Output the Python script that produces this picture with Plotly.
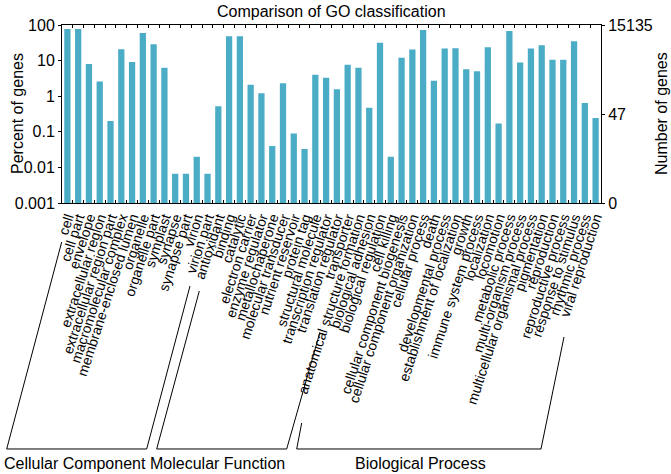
import plotly.graph_objects as go

# ---------------- data ----------------
cc_terms = ["cell", "cell part", "envelope", "extracellular region", "extracellular region part",
            "macromolecular complex", "membrane-enclosed lumen", "organelle", "organelle part",
            "symplast", "synapse", "synapse part", "virion", "virion part"]
cc_values = [77, 77, 8.0, 2.6, 0.2, 21, 9.1, 60, 29, 6.3, 0.0066, 0.0066, 0.02, 0.0066]

mf_terms = ["antioxidant", "binding", "catalytic", "electron carrier", "enzyme regulator",
            "metallochaperone", "molecular transducer", "nutrient reservoir", "protein tag",
            "structural molecule", "transcription regulator", "translation regulator", "transporter"]
mf_values = [0.52, 48, 48, 2.1, 1.22, 0.04, 2.3, 0.09, 0.033, 4.0, 3.3, 1.57, 7.7]

bp_terms = ["anatomical structure formation", "biological adhesion", "biological regulation",
            "cell killing", "cellular component biogenesis", "cellular component organization",
            "cellular process", "death", "developmental process", "establishment of localization",
            "growth", "immune system process", "localization", "locomotion", "metabolic process",
            "multi-organism process", "multicellular organismal process", "pigmentation",
            "reproduction", "reproductive process", "response to stimulus", "rhythmic process",
            "viral reproduction"]
bp_values = [6.3, 0.47, 31.5, 0.02, 12, 20.5, 72.6, 2.7, 21.9, 22.3, 5.7, 5.0, 23.8, 0.17, 68,
             8.9, 21.9, 27, 10.6, 10.6, 35, 0.64, 0.245]

group_names = ["Cellular Component", "Molecular Function", "Biological Process"]

left_tickvals = [0.001, 0.01, 0.1, 1, 10, 100]
left_ticktext = ["0.001", "0.01", "0.1", "1", "10", "100"]

total_genes = 15135
right_gene_ticks = [15135, 47, 0]

categories = cc_terms + mf_terms + bp_terms
values = cc_values + mf_values + bp_values

# ---------------- layout geometry ----------------
W, H = 671, 474
ML, MR, MT, MB = 62, 70, 25, 271
PW = W - ML - MR
PH = H - MT - MB


def px(x):
    return (x - ML) / PW


def py(y):
    return (H - MB - y) / PH


FONT = "Liberation Sans, Arial, sans-serif"
BAR_COLOR = "#4BACC6"

fig = go.Figure()
fig.add_trace(go.Bar(x=categories, y=values, marker=dict(color=BAR_COLOR, line=dict(width=0)),
                     showlegend=False, yaxis="y"))
# invisible trace to activate right axis
fig.add_trace(go.Scatter(x=categories, y=values, mode="markers", marker=dict(opacity=0),
                         showlegend=False, hoverinfo="skip", yaxis="y2"))

right_tickvals = [100.0 * g / total_genes if g > 0 else left_tickvals[0] for g in right_gene_ticks]

fig.update_layout(
    width=W, height=H,
    template="none",
    paper_bgcolor="white", plot_bgcolor="white",
    margin=dict(l=ML, r=MR, t=MT, b=MB, pad=0),
    bargap=0.42,
    barmode="overlay",
    font=dict(family=FONT, color="black", size=16),
    xaxis=dict(
        type="category", tickangle=-72, tickfont=dict(size=14),
        range=[-0.5, len(categories) - 0.5],
        tickmode="linear", tick0=0, dtick=1,
        ticks="inside", ticklen=3, tickcolor="black", tickson="boundaries",
        showline=True, linecolor="black", linewidth=1, mirror="ticks",
        showgrid=False, automargin=False, ticklabelstandoff=0,
    ),
    yaxis=dict(
        type="log", range=[-3, 2], tickvals=left_tickvals, ticktext=left_ticktext,
        ticks="outside", ticklen=3, tickcolor="black", tickfont=dict(size=16),
        showline=True, linecolor="black", linewidth=1, showgrid=False, zeroline=False,
        automargin=False,
    ),
    yaxis2=dict(
        type="log", range=[-3, 2], overlaying="y", side="right",
        tickvals=right_tickvals, ticktext=[str(g) for g in right_gene_ticks],
        ticks="outside", ticklen=3, tickcolor="black", tickfont=dict(size=16),
        showline=True, linecolor="black", linewidth=1, showgrid=False, zeroline=False,
        automargin=False,
    ),
    showlegend=False,
)

annotations = [
    dict(text="Comparison of GO classification", x=0.5, y=py(12), xref="paper", yref="paper",
         showarrow=False, font=dict(size=16), xanchor="center", yanchor="middle"),
    dict(text="Percent of genes", x=px(17), y=py(114), xref="paper", yref="paper",
         showarrow=False, textangle=-90, font=dict(size=16), xanchor="center", yanchor="middle"),
    dict(text="Number of genes", x=px(661), y=py(114), xref="paper", yref="paper",
         showarrow=False, textangle=-90, font=dict(size=16), xanchor="center", yanchor="middle"),
]

# group brackets (pixel geometry)
brackets = [
    [(61.7, 242), (6.7, 449), (146.7, 449), (190, 286)],
    [(199.3, 291), (156.7, 449), (286.7, 449), (320, 332)],
    [(301.7, 423), (296.7, 449), (541, 449), (564, 337)],
]
label_x = [75, 217.5, 420]
shapes = []
for pts, name, lx in zip(brackets, group_names, label_x):
    path = "M " + " L ".join(f"{px(x):.5f},{py(y):.5f}" for x, y in pts)
    shapes.append(dict(type="path", path=path, xref="paper", yref="paper",
                       line=dict(color="black", width=1)))
    annotations.append(dict(text=name, x=px(lx), y=py(463), xref="paper", yref="paper",
                            showarrow=False, font=dict(size=16), xanchor="center",
                            yanchor="middle"))

fig.update_layout(annotations=annotations, shapes=shapes)

fig.write_html("out.html", config={"displayModeBar": False},
               post_script="document.body.style.margin='0px';document.body.style.overflow='hidden';")
